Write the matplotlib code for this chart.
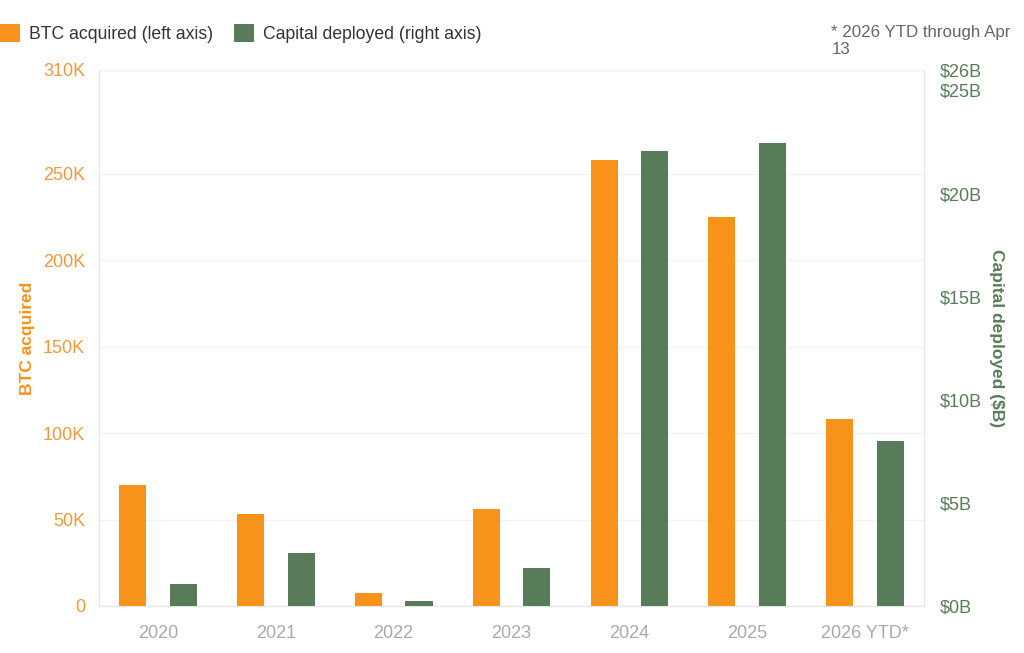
import numpy as np
import matplotlib
matplotlib.use("Agg")
import matplotlib.pyplot as plt
from matplotlib.patches import Patch

years = ["2020", "2021", "2022", "2023", "2024", "2025", "2026 YTD*"]
btc_acquired = [70000, 53300, 7500, 56100, 258000, 225000, 108000]   # BTC
capital_bn = [1.07, 2.57, 0.24, 1.84, 22.07, 22.46, 8.0]              # $B

btc_ticks = [0, 50000, 100000, 150000, 200000, 250000, 310000]
btc_ticklabels = ["0", "50K", "100K", "150K", "200K", "250K", "310K"]
cap_ticks = [0, 5, 10, 15, 20, 25, 26]
cap_ticklabels = ["$0B", "$5B", "$10B", "$15B", "$20B", "$25B", "$26B"]

orange = "#F7931A"
green = "#587C5A"
grid_c = "#F3F3F3"

plt.rcParams["font.family"] = ["Liberation Sans", "DejaVu Sans"]

fig = plt.figure(figsize=(10.24, 6.53), dpi=100)
ax = fig.add_axes([0.0967, 0.072, 0.8057, 0.821])
ax2 = ax.twinx()

x = np.arange(len(years))
w = 0.23
off = 0.215
ax.bar(x - off, btc_acquired, width=w, color=orange, zorder=3)
ax2.bar(x + off, capital_bn, width=w, color=green, zorder=3)

ax.set_xlim(-0.5, len(years) - 0.5)
ax.set_ylim(0, 310000)
ax2.set_ylim(0, 26)

ax.set_yticks(btc_ticks)
ax.set_yticklabels(btc_ticklabels)
ax2.set_yticks(cap_ticks)
ax2.set_yticklabels(cap_ticklabels)
ax.set_xticks(x)
ax.set_xticklabels(years)

ax.grid(axis="y", color=grid_c, linewidth=1, zorder=0)
ax.set_axisbelow(True)

for a in (ax, ax2):
    for s in a.spines.values():
        s.set_color("#E6E6E6")
    a.spines["top"].set_visible(False)
    a.tick_params(length=0)

ax.tick_params(axis="y", colors="#EE9A3A", labelsize=13, pad=10)
ax.tick_params(axis="x", colors="#AAAAAA", labelsize=13, pad=14)
ax2.tick_params(axis="y", colors=green, labelsize=13, pad=11)

ax.set_ylabel("BTC acquired", color=orange, fontsize=12.5, fontweight="bold", labelpad=6)
ax2.set_ylabel("Capital deployed ($B)", color=green, fontsize=12.5, fontweight="bold",
               rotation=-90, labelpad=16)

handles = [Patch(facecolor=orange, label="BTC acquired (left axis)"),
           Patch(facecolor=green, label="Capital deployed (right axis)")]
fig.legend(handles=handles, loc="upper left", bbox_to_anchor=(-0.016, 0.988), ncol=2,
           frameon=False, fontsize=12.7, handlelength=1.15, handleheight=1.2,
           handletextpad=0.5, columnspacing=1.2, labelcolor="#333333")

fig.text(0.812, 0.962, "* 2026 YTD through Apr\n13", color="#666666", fontsize=12.2,
         va="top", ha="left", linespacing=1.15)

fig.savefig("out.png", dpi=100)
